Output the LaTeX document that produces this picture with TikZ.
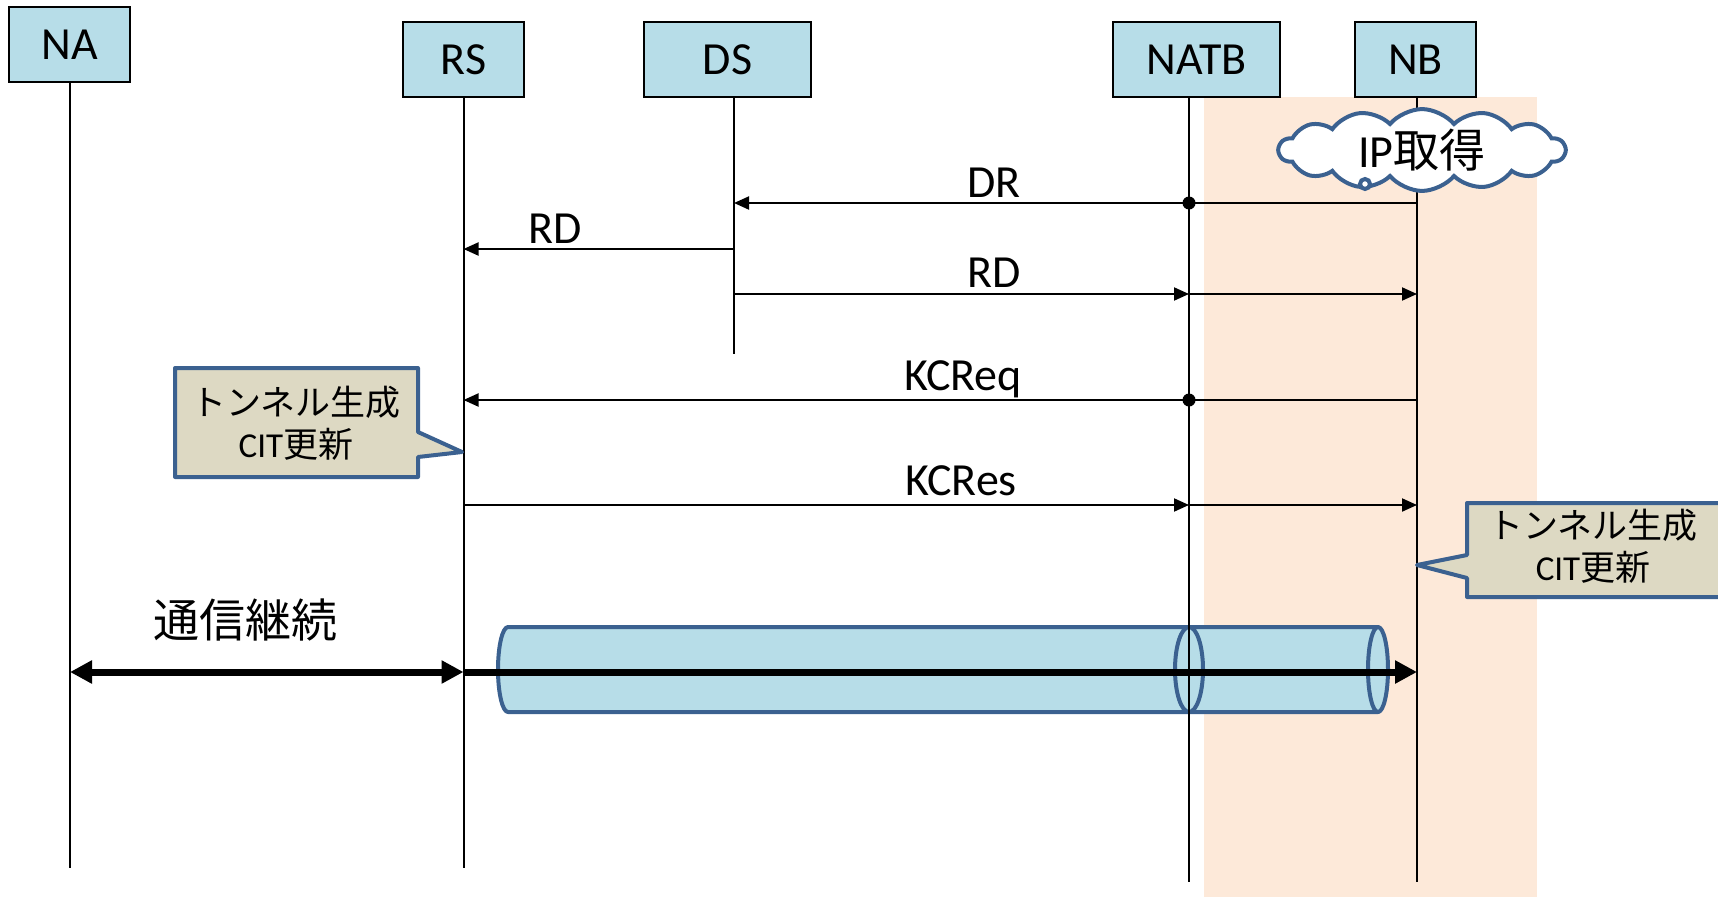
\documentclass[tikz,border=0pt]{standalone}
\usepackage{fontspec}
\setmainfont{Carlito}
\newfontfamily\jp{Noto Sans CJK JP}
\newfontfamily\lat{Carlito}
\usetikzlibrary{arrows.meta,shapes.symbols}
\definecolor{boxblue}{HTML}{B7DDE8}
\definecolor{bgorange}{HTML}{FDE9D9}
\definecolor{callfill}{HTML}{DDD9C3}
\definecolor{cblue}{HTML}{3B6190}
\tikzset{
  actor/.style={draw=black, line width=2pt, fill=boxblue, minimum width=#1, minimum height=75pt, inner sep=0pt, font=\fontsize{46}{50}\selectfont},
  life/.style={line width=2pt},
  msg/.style={line width=2pt, -{Triangle[length=15pt,width=13pt]}},
  lbl/.style={anchor=base, inner sep=0pt, font=\fontsize{46}{50}\selectfont},
  junction/.style={fill=black},
  thickarr/.style={line width=7pt},
  callout/.style={draw=cblue, line width=4pt, fill=callfill, line join=round},
  calltext/.style={align=center, inner sep=0pt, font=\fontsize{35}{42}\selectfont\jp},
  cyl/.style={draw=cblue, line width=4pt, fill=boxblue, line join=round},
}
\begin{document}
\begin{tikzpicture}[x=1pt,y=-1pt]
\useasboundingbox (0,0) rectangle (1718,897);
\clip (0,0) rectangle (1718,897);
% background band
\fill[bgorange] (1204,97) rectangle (1537,897);
% cylinder (tunnel)
\path[cyl] (508,627) -- (1378,627) -- (1378,712) -- (508,712)
  arc[start angle=270, end angle=90, x radius=10pt, y radius=42.5pt] -- cycle;
\draw[cyl] (1378,669.5) ellipse[x radius=10pt, y radius=42.5pt];
\draw[draw=cblue, line width=4pt] (1189,669.5) ellipse[x radius=14pt, y radius=42.5pt];
% actors
\node[actor=121pt] (NA) at (69.5,44.5) {NA};
\node[actor=121pt] (RS) at (463.5,59.5) {RS};
\node[actor=167pt] (DS) at (727.5,59.5) {DS};
\node[actor=167pt] (NATB) at (1196.5,59.5) {NATB};
\node[actor=121pt] (NB) at (1415.5,59.5) {NB};
% lifeline ends
\coordinate (NAend) at (70,868);
\coordinate (RSend) at (463.5,868);
\coordinate (DSend) at (734,354);
\coordinate (NATBend) at (1189,882);
\coordinate (NBend) at (1417,882);
\coordinate (NAtop) at (70,82);
\coordinate (RStop) at (463.5,97);
\coordinate (DStop) at (734,97);
\coordinate (NATBtop) at (1189,97);
\coordinate (NBtop) at (1417,97);
\draw[life] (NAtop) -- (NAend);
\draw[life] (RStop) -- (RSend);
\draw[life] (DStop) -- (DSend);
\draw[life] (NATBtop) -- (NATBend);
\draw[life] (NBtop) -- (NBend);
% message points
\coordinate (nb1) at (1417,203);
\coordinate (natb1) at (1189,203);
\coordinate (ds1) at (734,203);
\coordinate (ds2) at (734,249);
\coordinate (rs2) at (463.5,249);
\coordinate (ds3) at (734,294);
\coordinate (natb3) at (1189,294);
\coordinate (nb3) at (1417,294);
\coordinate (nb4) at (1417,400);
\coordinate (natb4) at (1189,400);
\coordinate (rs4) at (463.5,400);
\coordinate (rs5) at (463.5,505);
\coordinate (natb5) at (1189,505);
\coordinate (nb5) at (1417,505);
\coordinate (na6) at (70,672);
\coordinate (rs6) at (463.5,672);
\coordinate (nb6) at (1417,672);
% DR
\draw[msg] (nb1) -- (ds1);
\fill[junction] (natb1) circle[radius=6.5pt];
\node[lbl] (lDR) at (994,197) {DR};
% RD to RS
\draw[msg] (ds2) -- (rs2);
\node[lbl] (lRD1) at (555,243) {RD};
% RD to NB
\draw[msg] (ds3) -- (natb3);
\draw[msg] (natb3) -- (nb3);
\node[lbl] (lRD2) at (994,287) {RD};
% KCReq
\draw[msg] (nb4) -- (rs4);
\fill[junction] (natb4) circle[radius=6.5pt];
\node[lbl] (lKCReq) at (963,390) {KCReq};
% KCRes
\draw[msg] (rs5) -- (natb5);
\draw[msg] (natb5) -- (nb5);
\node[lbl] (lKCRes) at (961,495) {KCRes};
% continued communication
\draw[thickarr, {Triangle[length=22pt,width=22pt]}-{Triangle[length=22pt,width=22pt]}] (na6) -- (rs6);
\draw[thickarr, -{Triangle[length=22pt,width=22pt]}] (rs6) -- (nb6);
\node[inner sep=0pt, font=\fontsize{46}{50}\selectfont\jp] (comm) at (245,620) {通信継続};
% cloud
\node[cloud, cloud puffs=14, cloud puff arc=100, aspect=3.8, draw=cblue, line width=4pt, fill=white, minimum width=286pt, minimum height=74pt, inner sep=0pt, font=\fontsize{46}{50}\selectfont] (ip) at (1422,150) {IP{\jp 取得}};
\draw[draw=cblue, line width=4pt, fill=white] (1365,184) circle[radius=5pt];
% left callout
\draw[callout] (175,368) -- (418,368) -- (418,432) -- (462,452) -- (418,457) -- (418,477) -- (175,477) -- cycle;
\node[calltext] (cl) at (296,423) {トンネル生成\\{\lat CIT}更新};
% right callout
\draw[callout] (1467,503) -- (1726,503) -- (1726,597) -- (1467,597) -- (1467,578) -- (1417,565) -- (1467,555) -- cycle;
\node[calltext] (cr) at (1593,546) {トンネル生成\\{\lat CIT}更新};
\end{tikzpicture}
\end{document}
